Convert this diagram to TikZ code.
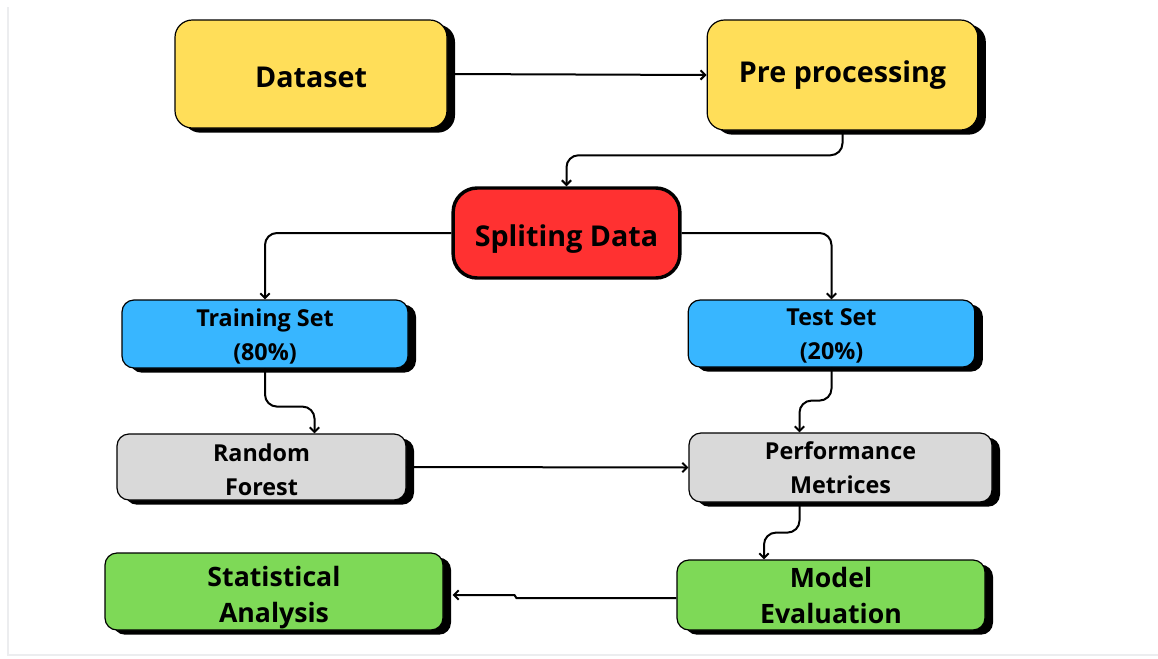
\documentclass[tikz,border=0pt]{standalone}
\usepackage{fontspec}
\setmainfont{Open Sans}
\usetikzlibrary{arrows.meta,shadows,calc}

\definecolor{cyellow}{HTML}{FFDE59}
\definecolor{cred}{HTML}{FF3131}
\definecolor{cblue}{HTML}{38B6FF}
\definecolor{cgray}{HTML}{D9D9D9}
\definecolor{cgreen}{HTML}{7ED957}
\definecolor{cframe}{HTML}{ECEDEF}

\tikzset{
  box/.style={draw=black, line width=0.9pt, inner sep=0pt, align=center,
    drop shadow={shadow xshift=6pt, shadow yshift=-3.5pt, opacity=1, fill=black}},
  bigtxt/.style={font=\bfseries\fontsize{21.5}{26}\selectfont},
  midtxt/.style={font=\bfseries\fontsize{17.5}{25.5}\selectfont},
  lrgtxt/.style={font=\bfseries\fontsize{20}{27}\selectfont},
  yellowbox/.style={box, fill=cyellow, rounded corners=13pt, bigtxt},
  bluebox/.style={box, fill=cblue, rounded corners=9pt, midtxt},
  graybox/.style={box, fill=cgray, rounded corners=9pt, midtxt},
  greenbox/.style={box, fill=cgreen, rounded corners=9pt, lrgtxt},
  splitbox/.style={draw=black, line width=2.6pt, fill=cred, rounded corners=18pt,
    inner sep=0pt, bigtxt},
  % a taller text box sets the label a little lower in its box
  sink/.style={text height=#1},
  conn/.style={line width=1.5pt, -{Straight Barb[length=3.5pt,width=7pt]}},
}

\begin{document}
\begin{tikzpicture}[x=0.75pt,y=-0.75pt]
  \useasboundingbox (0,0) rectangle (1158,658);
  \fill[white] (0,0) rectangle (1158,658);
  % faint page edge
  \draw[cframe, line width=2.2pt] (8,7) -- (8,655) -- (1158,655);

  % nodes
  \node[yellowbox, sink=19.9pt, minimum width=204pt, minimum height=81pt] (ds) at (311,74) {Dataset};
  \node[yellowbox, minimum width=203pt, minimum height=82.5pt] (pp) at (842.5,75) {Pre processing};
  \node[splitbox, sink=25.3pt, minimum width=170pt, minimum height=67.5pt] (sd) at (566.5,233) {Spliting Data};
  \node[bluebox, sink=41.8pt, minimum width=214.5pt, minimum height=51pt] (tr) at (265,334) {Training Set\\(80\%)};
  \node[bluebox, sink=42.5pt, minimum width=215pt, minimum height=50.25pt] (ts) at (831.5,333.5) {Test Set\\(20\%)};
  \node[graybox, sink=43.3pt, minimum width=216.75pt, minimum height=49.5pt] (rf) at (261.5,467) {Random\\Forest};
  \node[graybox, minimum width=227.25pt, minimum height=51.75pt] (pm) at (840.5,467.5) {Performance\\Metrices};
  \node[greenbox, sink=52pt, minimum width=253.5pt, minimum height=57.75pt] (sa) at (274,591.5) {Statistical\\Analysis};
  \node[greenbox, minimum width=231pt, minimum height=52.5pt] (me) at (831,595) {Model\\Evaluation};

  % connectors
  \draw[conn] (ds.east) -- (pp.west);
  \draw[conn, rounded corners=9] (pp.south) |- ($(sd.north)+(0,-31)$) -- (sd.north);
  \draw[conn, rounded corners=9] (sd.west) -| (tr.north);
  \draw[conn, rounded corners=9] (sd.east) -| (ts.north);
  \draw[conn, rounded corners=9] (tr.south) -- ++(0,38) -| ($(rf.north)+(53,0)$);
  \draw[conn, rounded corners=9] (ts.south) -- ++(0,33) -| ($(pm.north)+(-41,0)$);
  \draw[conn] (rf.east) -- (pm.west);
  \draw[conn, rounded corners=9] ($(pm.south)+(-41,0)$) -- ++(0,30) -| ($(me.north)+(-67,0)$);
  \draw[conn] ($(me.west)+(0,3)$) -- ($(me.west)+(-160,3)$) -- ($(me.west)+(-162,0)$) -- ($(sa.east)+(9,3.5)$);
\end{tikzpicture}
\end{document}
